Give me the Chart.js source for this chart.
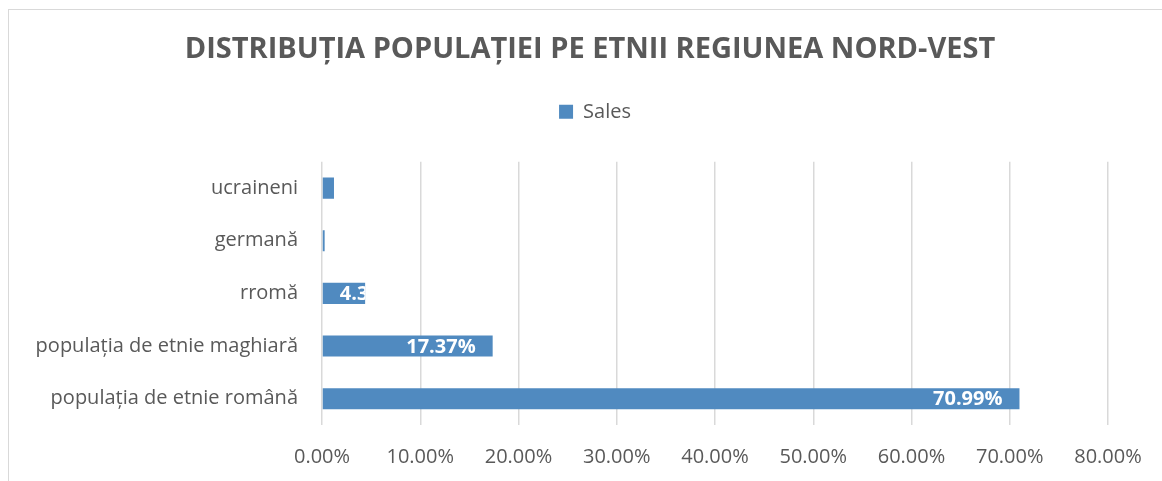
<!DOCTYPE html>
<html>
<head>
<meta charset="utf-8">
<script src="https://cdn.jsdelivr.net/npm/chart.js@4.4.1/dist/chart.umd.min.js"></script>
<style>
  html, body { margin: 0; padding: 0; background: #fff; overflow: hidden; }
  #wrap { position: relative; width: 1162px; height: 481px; overflow: hidden; }
  #frame { position: absolute; left: 8px; top: 9px; width: 1200px; height: 600px;
           border-left: 1.5px solid #d9d9d9; border-top: 1.5px solid #d9d9d9; box-sizing: border-box; }
  canvas { position: absolute; left: 0; top: 0; }
</style>
</head>
<body>
<div id="wrap">
  <div id="frame"></div>
  <canvas id="c" width="1162" height="481"></canvas>
</div>
<script>
const chartTitle = 'DISTRIBUȚIA POPULAȚIEI PE ETNII REGIUNEA NORD-VEST';
const seriesName = 'Sales';
const categories = ['ucraineni', 'germană', 'rromă', 'populația de etnie maghiară', 'populația de etnie română'];
const values = [1.22, 0.27, 4.39, 17.37, 70.99];
const axisMin = 0;
const axisMax = 80;
const axisStep = 10;

const FONT = '"Open Sans", "Liberation Sans", sans-serif';
const GREY = '#595959';
const BAR = '#508ac0';

// Extra room under the legend, and horizontal offset of title/legend
// (the original chart frame is wider than the visible window).
const headerShift = {
  id: 'headerShift',
  afterInit(chart) {
    const lg = chart.legend;
    if (lg) {
      const fit = lg.fit.bind(lg);
      lg.fit = function () { fit(); this.height += 30; };
      const draw = lg.draw.bind(lg);
      lg.draw = function () { const c = this.ctx; c.save(); c.translate(41, 0); draw(); c.restore(); };
    }
    const tb = chart.titleBlock;
    if (tb) {
      const draw = tb.draw.bind(tb);
      tb.draw = function () { const c = this.ctx; c.save(); c.translate(36, 0); draw(); c.restore(); };
    }
  }
};

const barLabels = {
  id: 'barLabels',
  afterDatasetsDraw(chart) {
    const ctx = chart.ctx;
    const meta = chart.getDatasetMeta(0);
    ctx.save();
    ctx.font = 'bold 20px ' + FONT;
    ctx.fillStyle = '#ffffff';
    ctx.textBaseline = 'middle';
    ctx.textAlign = 'left';
    meta.data.forEach((bar, i) => {
      const txt = values[i].toFixed(2) + '%';
      const w = ctx.measureText(txt).width;
      const start = bar.base, end = bar.x, h = bar.height;
      const left = Math.max(end - 17 - w, start + 17);
      ctx.save();
      ctx.beginPath();
      ctx.rect(start, bar.y - h / 2, end - start, h);
      ctx.clip();
      ctx.fillText(txt, left, bar.y + 1);
      ctx.restore();
    });
    ctx.restore();
  }
};

new Chart(document.getElementById('c'), {
  type: 'bar',
  data: {
    labels: categories,
    datasets: [{
      label: seriesName,
      data: values,
      backgroundColor: BAR,
      borderWidth: 0,
      categoryPercentage: 1,
      barPercentage: 0.4
    }]
  },
  options: {
    indexAxis: 'y',
    responsive: false,
    animation: false,
    layout: { padding: { left: 0, right: 54, top: 0, bottom: 0 } },
    plugins: {
      title: {
        display: true,
        text: chartTitle,
        color: GREY,
        font: { family: FONT, size: 29, weight: 'bold' },
        padding: { top: 32, bottom: 25 }
      },
      legend: {
        display: true,
        position: 'top',
        labels: {
          color: GREY,
          font: { family: FONT, size: 20 },
          boxWidth: 14,
          boxHeight: 14,
          padding: 10
        }
      },
      tooltip: { enabled: false }
    },
    scales: {
      x: {
        min: axisMin,
        max: axisMax,
        ticks: {
          stepSize: axisStep,
          color: GREY,
          font: { family: FONT, size: 20 },
          padding: 20,
          callback: v => Number(v).toFixed(2) + '%'
        },
        grid: { color: '#d9d9d9', lineWidth: 1.5, drawTicks: false },
        border: { display: false },
        afterFit: s => { s.height = 56; }
      },
      y: {
        ticks: {
          color: GREY,
          font: { family: FONT, size: 20 },
          padding: 24
        },
        grid: { display: false, drawTicks: false },
        border: { display: false },
        afterFit: s => { s.width = 322; }
      }
    }
  },
  plugins: [headerShift, barLabels]
});
</script>
</body>
</html>
